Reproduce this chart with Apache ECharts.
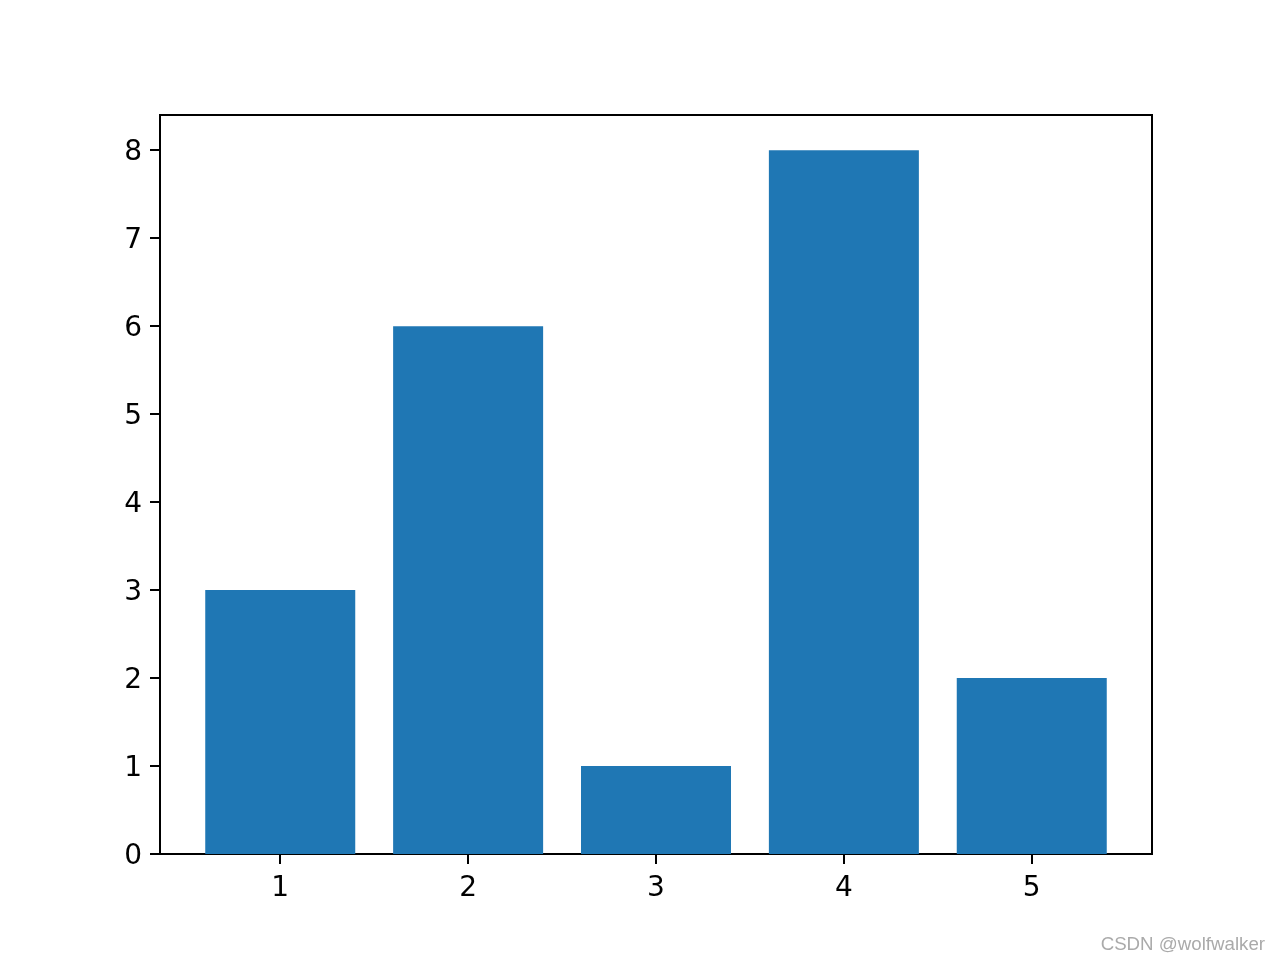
<!DOCTYPE html>
<html>
<head>
<meta charset="utf-8">
<script src="https://cdn.jsdelivr.net/npm/echarts@6/dist/echarts.min.js"></script>
<style>
html,body{margin:0;padding:0;background:#fff;}
#c{width:1280px;height:960px;}
</style>
</head>
<body>
<div id="c"></div>
<script>
const categories = [1, 2, 3, 4, 5];
const values = [3, 6, 1, 8, 2];
const yTicks = [0, 1, 2, 3, 4, 5, 6, 7, 8];
const xTicks = [1, 2, 3, 4, 5];

const chart = echarts.init(document.getElementById('c'), null, {renderer: 'canvas'});
const font = 'DejaVu Sans';
chart.setOption({
  animation: false,
  backgroundColor: '#ffffff',
  grid: {
    left: 160, top: 115, width: 992, height: 739,
    show: true, borderColor: '#000', borderWidth: 2, backgroundColor: 'transparent'
  },
  xAxis: {
    type: 'value',
    min: 0.36, max: 5.64,
    splitLine: {show: false},
    axisLine: {show: true, onZero: false, lineStyle: {color: '#000', width: 2}},
    axisTick: {show: true, inside: false, length: 10, lineStyle: {color: '#000', width: 2}, customValues: xTicks},
    axisLabel: {color: '#000', fontFamily: font, fontSize: 28, margin: 21, customValues: xTicks,
      formatter: v => String(v)}
  },
  yAxis: {
    type: 'value',
    min: 0, max: 8.4,
    splitLine: {show: false},
    axisLine: {show: true, lineStyle: {color: '#000', width: 2}},
    axisTick: {show: true, inside: false, length: 10, lineStyle: {color: '#000', width: 2}, customValues: yTicks},
    axisLabel: {color: '#000', fontFamily: font, fontSize: 28, margin: 18, customValues: yTicks,
      formatter: v => '{a|' + v + '}',
      rich: {a: {color: '#000', fontFamily: font, fontSize: 28, padding: [5, 0, 0, 0]}}}
  },
  series: [{
    type: 'bar',
    data: categories.map((c, i) => [c, values[i]]),
    barWidth: 150,
    itemStyle: {color: '#1f77b4'}
  }],
  graphic: [{
    type: 'text',
    right: 15, bottom: 6,
    style: {text: 'CSDN @wolfwalker', fill: '#aaaaaa', font: '18.7px "Liberation Sans", Arial, sans-serif'}
  }]
});
</script>
</body>
</html>
